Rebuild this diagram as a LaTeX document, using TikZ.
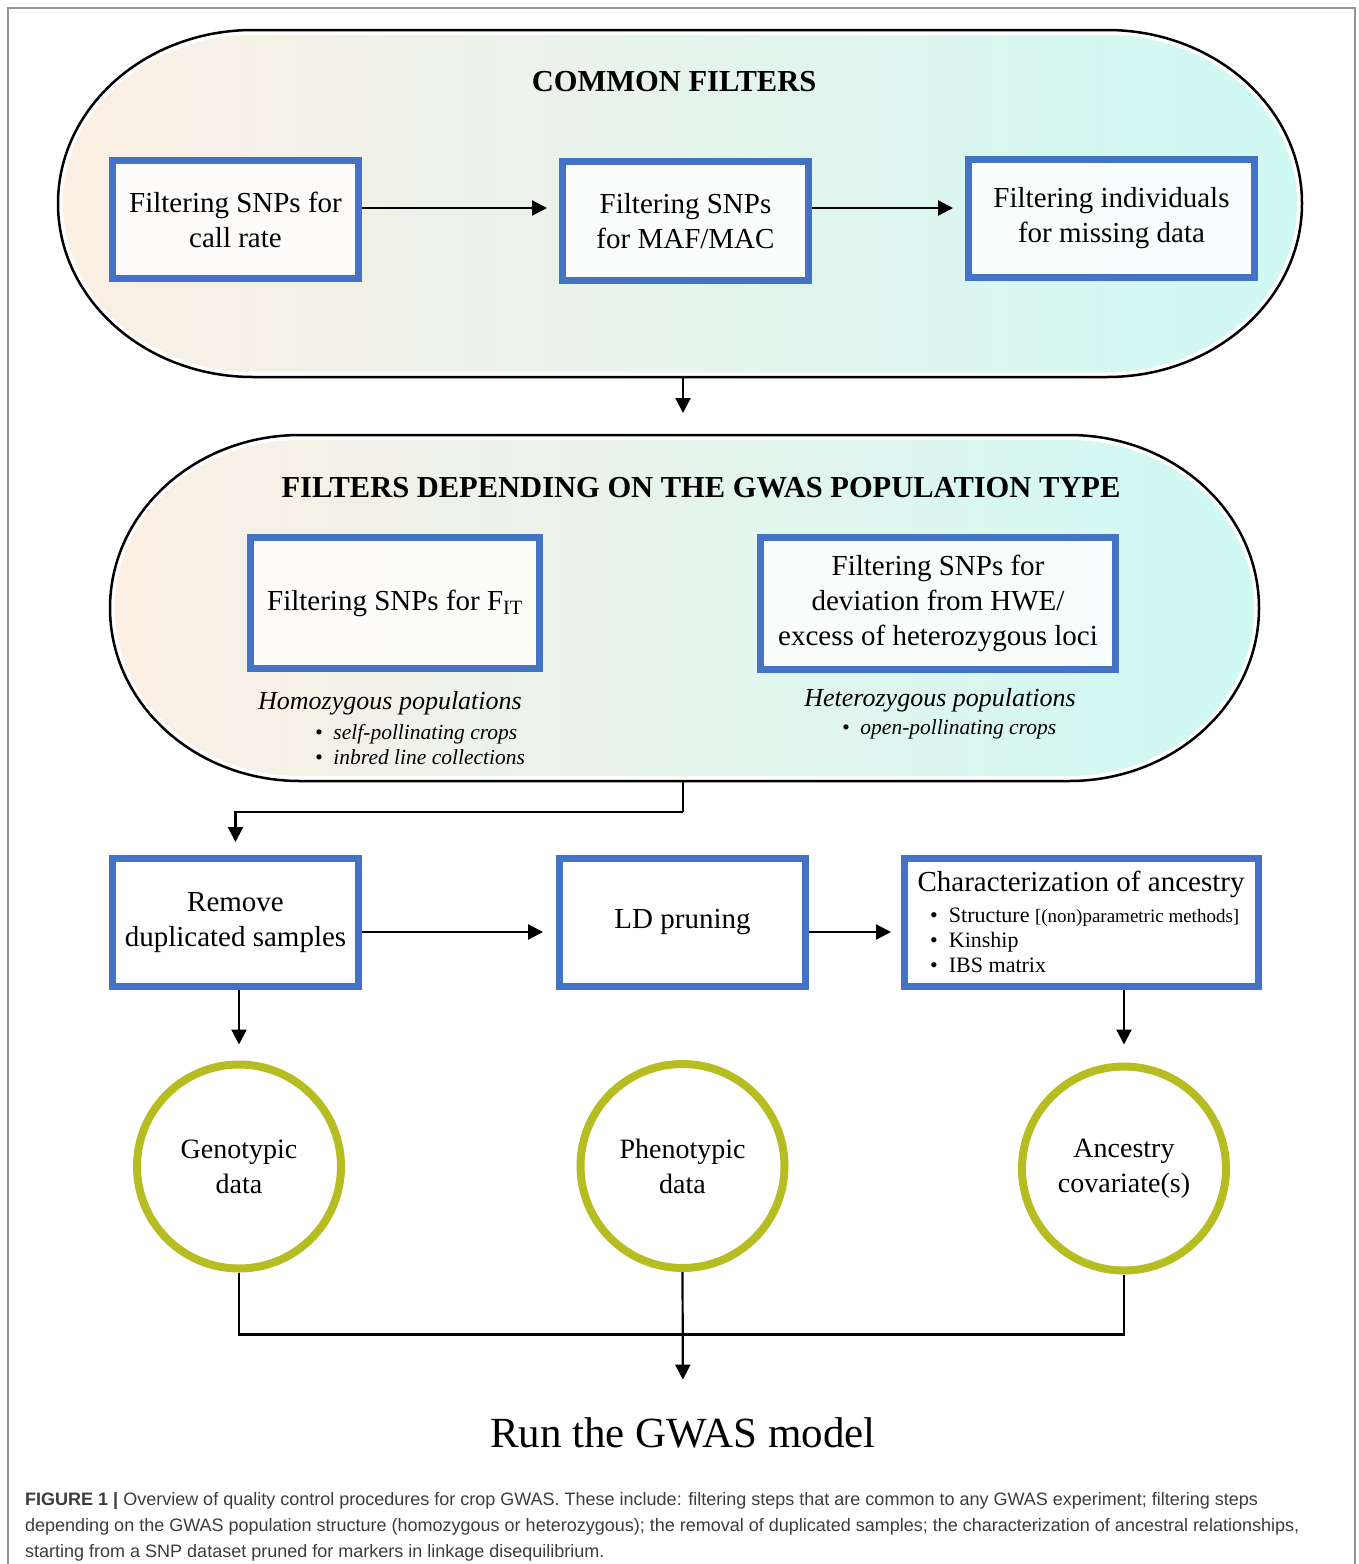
\documentclass[tikz,border=0pt]{standalone}
\usepackage{fontspec}
\setmainfont{Liberation Serif}
\newfontfamily\capfont{Liberation Sans}
\usetikzlibrary{positioning, arrows.meta}
\definecolor{qcblue}{RGB}{68,114,196}
\definecolor{qcolive}{RGB}{181,189,33}
\definecolor{qcpeach}{RGB}{252,239,228}
\definecolor{qcmint}{RGB}{234,245,232}
\definecolor{qccyan}{RGB}{207,249,244}
\definecolor{qcframe}{RGB}{150,150,150}
\definecolor{qccaption}{RGB}{60,60,60}
\tikzset{
  qcbox/.style={draw=qcblue, line width=7pt, fill=white, fill opacity=0.85, text opacity=1,
    align=center, font=\fontsize{29}{35}\selectfont},
  datacirc/.style={draw=qcolive, line width=8pt, circle, fill=white, minimum size=204pt,
    inner sep=0pt, align=center, font=\fontsize{28}{35}\selectfont},
  edge/.style={draw, -{Triangle[length=15pt,width=15pt]}, line width=2.2pt},
}
% stadium: left centre x, right centre x, centre y, x radius, y radius
\newcommand{\qcstadium}[5]{%
  \shade[left color=qcpeach, middle color=qcmint, right color=qccyan]
    (#1,#3-#5+5) -- (#2,#3-#5+5) arc[start angle=-90, end angle=90, x radius=#4-5, y radius=#5-5]
    -- (#1,#3+#5-5) arc[start angle=90, end angle=270, x radius=#4-5, y radius=#5-5] -- cycle;
  \draw[line width=2.5pt]
    (#1,#3-#5) -- (#2,#3-#5) arc[start angle=-90, end angle=90, x radius=#4, y radius=#5]
    -- (#1,#3+#5) arc[start angle=90, end angle=270, x radius=#4, y radius=#5] -- cycle;
}

\begin{document}
\begin{tikzpicture}[x=1pt, y=-1pt]
	\tikzstyle{line}=[draw, line width=2.2pt]
	\tikzstyle{title}=[font=\bfseries\fontsize{30.5}{36}\selectfont]
	\tikzstyle{popnote}=[font=\itshape\fontsize{26}{30}\selectfont]
	\tikzstyle{poplist}=[font=\itshape\fontsize{21.5}{25}\selectfont, align=left, anchor=west, inner sep=0pt]

	\useasboundingbox (0,0) rectangle (1358,1564);
	\fill[white] (0,0) rectangle (1358,1564);
	\draw[qcframe, line width=1.5pt] (8,1564) -- (8,8) -- (1355,8) -- (1355,1564);

	% common filters
	\qcstadium{253}{1107}{203.5}{195}{173.5}
	\node[title] (cf-title) at (674,82) {COMMON FILTERS};
	\node[qcbox, minimum width=246pt, minimum height=118pt] (callrate) at (235.5,219.5) {Filtering SNPs for\\call rate};
	\node[qcbox, minimum width=246pt, minimum height=119pt] (maf) at (685.5,221) {Filtering SNPs\\for MAF/MAC};
	\node[qcbox, minimum width=286pt, minimum height=118pt] (missing) at (1111.5,218.5) {Filtering individuals\\for missing data};

	\coordinate (a1) at ([yshift=11.5pt]callrate.east);
	\coordinate (a2) at ([yshift=13pt]maf.east);
	\path[edge, shorten >=12pt] (a1) -- (a1 -| maf.west);
	\path[edge, shorten >=12pt] (a2) -- (a2 -| missing.west);

	% population type filters
	\qcstadium{300}{1069}{608}{190}{173}
	\node[title] (pt-title) at (701,488) {FILTERS DEPENDING ON THE GWAS POPULATION TYPE};
	\node[qcbox, minimum width=289pt, minimum height=131pt] (fit) at (395,603) {Filtering SNPs for F\textsubscript{IT}};
	\node[qcbox, minimum width=355pt, minimum height=132pt] (hwe) at (938,603.5) {Filtering SNPs for\\deviation from HWE/\\excess of heterozygous loci};
	\node[popnote] (homo) at (390,703) {Homozygous populations};
	\node[poplist] (homo-list) at (315,745) {\textbullet\ \ self-pollinating crops\\\textbullet\ \ inbred line collections};
	\node[popnote] (hetero) at (940,700) {Heterozygous populations};
	\node[poplist] (hetero-list) at (842,729) {\textbullet\ \ open-pollinating crops};

	\coordinate (cf-s) at (683,377);
	\coordinate (pt-n) at (683,435);
	\coordinate (pt-s) at (683,781);
	\path[edge, shorten >=22pt] (cf-s) -- (pt-n);

	% sample and marker steps
	\node[qcbox, minimum width=246pt, minimum height=128pt] (dup) at (235.5,922.5) {Remove\\duplicated samples};
	\node[qcbox, minimum width=246pt, minimum height=128pt] (ld) at (682.5,922.5) {LD pruning};
	\node[qcbox, minimum width=354pt, minimum height=128pt] (ancestry) at (1081.5,922.5) {};
	\node[font=\fontsize{29}{30}\selectfont] (anc-title) at (1081,884) {Characterization of ancestry};
	\node[font=\fontsize{22}{25}\selectfont, align=left, anchor=west, inner sep=0pt] (anc-list) at (930,940)
		{\textbullet\ \ Structure {\fontsize{19}{20}\selectfont[(non)parametric methods]}\\\textbullet\ \ Kinship\\\textbullet\ \ IBS matrix};

	\path[line] (pt-s) -- ++(0,31) coordinate (pt-turn);
	\path[edge, shorten >=13pt] (pt-turn) -| (dup.north);
	\coordinate (a3) at ([yshift=-9.5pt]dup.east);
	\coordinate (a4) at ([yshift=-9.5pt]ld.east);
	\path[edge, shorten >=13pt] (a3) -- (a3 -| ld.west);
	\path[edge, shorten >=10pt] (a4) -- (a4 -| ancestry.west);

	% model inputs
	\node[datacirc] (geno) at (239,1166.5) {Genotypic\\data};
	\node[datacirc] (pheno) at (682.5,1166) {Phenotypic\\data};
	\node[datacirc] (covar) at (1124,1168.5) {Ancestry\\covariate(s)};

	\path[edge, shorten >=16pt] (geno |- dup.south) -- (geno.north);
	\path[edge, shorten >=18pt] (covar |- ancestry.south) -- (covar.north);

	\node[font=\fontsize{43}{48}\selectfont, inner sep=0pt] (run) at (683,1433) {Run the GWAS model};
	\path[line] (geno.south) -- ++(0,62) -| (covar.south);
	\path[edge, shorten >=38pt] (pheno.south) -- (run.north);

	% caption
	\node[anchor=north west, align=left, inner sep=0pt, text=qccaption, font=\capfont\fontsize{18}{26}\selectfont] (caption) at (25,1492)
		{\textbf{FIGURE 1 |} Overview of quality control procedures for crop GWAS. These include: filtering steps that are common to any GWAS experiment; filtering steps\\
		depending on the GWAS population structure (homozygous or heterozygous); the removal of duplicated samples; the characterization of ancestral relationships,\\
		starting from a SNP dataset pruned for markers in linkage disequilibrium.};
\end{tikzpicture}
\end{document}
